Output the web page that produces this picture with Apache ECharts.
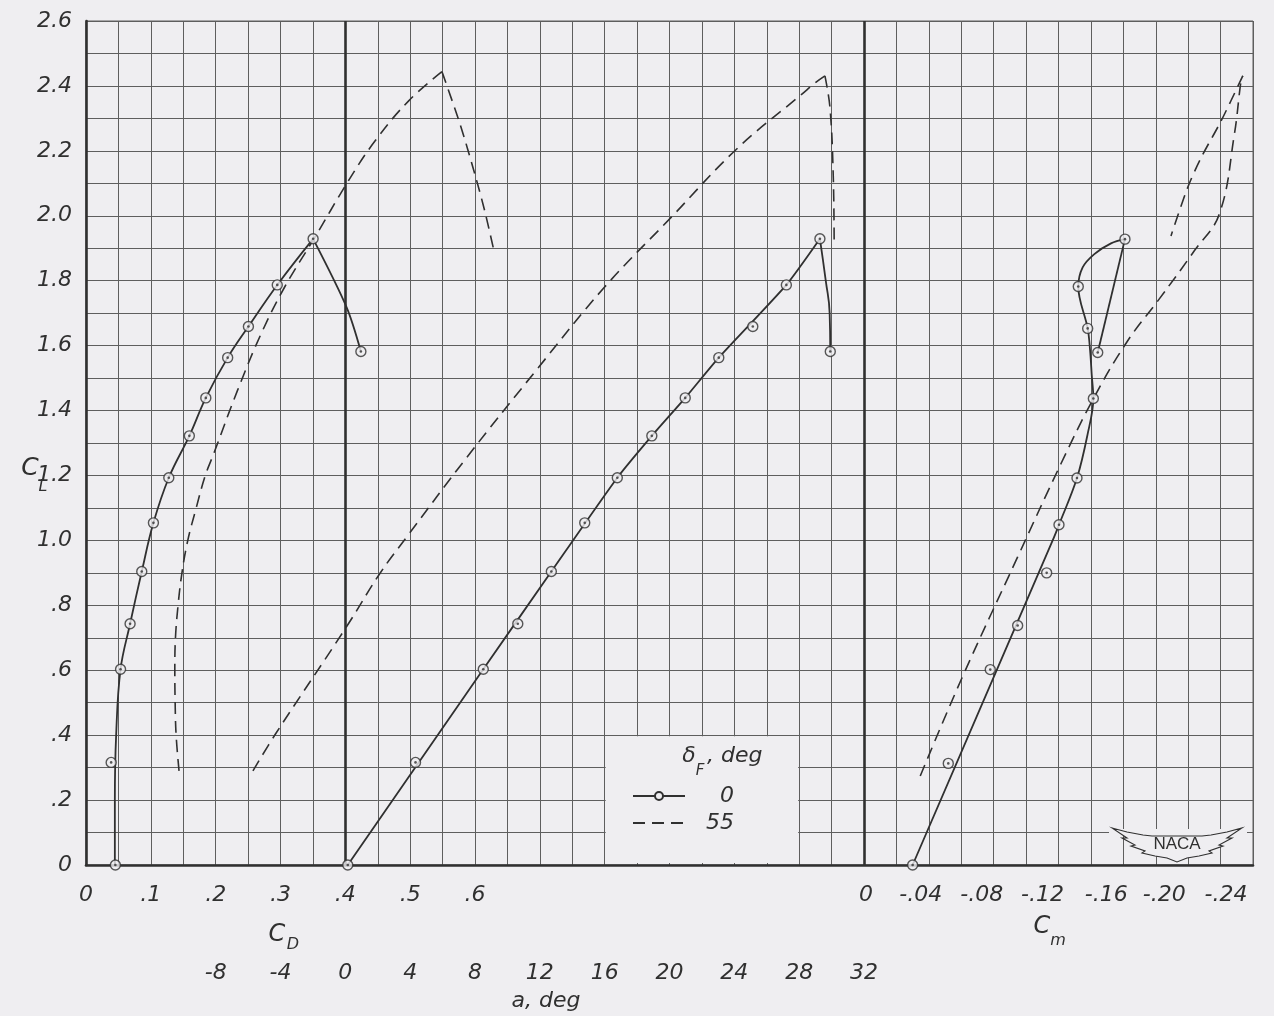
<!DOCTYPE html>
<html><head><meta charset="utf-8">
<script src="https://cdn.jsdelivr.net/npm/echarts@6/dist/echarts.min.js"></script>
<style>html,body{margin:0;padding:0;background:#efeef1;}#c{width:1274px;height:1016px;}</style>
</head><body><div id="c"></div>
<script>
// ---------- tick labels ----------
const clTickLabels = ['0','.2','.4','.6','.8','1.0','1.2','1.4','1.6','1.8','2.0','2.2','2.4','2.6'];
const cdTickLabels = ['0','.1','.2','.3','.4','.5','.6'];
const alphaTickValues = [-8,-4,0,4,8,12,16,20,24,28,32];
const alphaTickLabels = ['-8','-4','0','4','8','12','16','20','24','28','32'];
const cmTickLabels = ['0','-.04','-.08','-.12','-.16','-.20','-.24'];
const legendNames = ['0','55'];

// ---------- deltaF = 0 : test points ----------
const cl0    = [0, 0.316, 0.603, 0.743, 0.904, 1.054, 1.193, 1.322, 1.439, 1.563, 1.659, 1.787, 1.929, 1.582];
const cd0    = [0.0453, 0.0388, 0.0533, 0.068, 0.086, 0.104, 0.1277, 0.1594, 0.1848, 0.2185, 0.2505, 0.295, 0.3503, 0.424];
const alpha0 = [0.15, 4.33, 8.51, 10.64, 12.71, 14.77, 16.78, 18.91, 20.97, 23.04, 25.14, 27.21, 29.28, 29.92];
const cmCl0  = [0, 0.313, 0.602, 0.738, 0.90, 1.048, 1.192, 1.437, 1.579, 1.653, 1.782, 1.928];
const cm0    = [-0.030, -0.052, -0.0779, -0.0948, -0.1127, -0.1203, -0.1314, -0.1415, -0.1442, -0.138, -0.1322, -0.161];

// ---------- deltaF = 0 : faired curves ----------
const cd0FairCl = [0, 0.20, 0.40, 0.603, 0.743, 0.904, 1.054, 1.193, 1.322, 1.439, 1.563, 1.659, 1.787, 1.929];
const cd0FairCd = [0.0445, 0.0445, 0.0465, 0.0533, 0.068, 0.086, 0.104, 0.1277, 0.1594, 0.1848, 0.2185, 0.2505, 0.295, 0.3503];
const cd0StallCl = [1.929, 1.718, 1.582];
const cd0StallCd = [0.3503, 0.402, 0.424];
const alpha0FairCl = [0, 0.603, 0.904, 1.193, 1.322, 1.439, 1.563, 1.787, 1.929];
const alpha0FairA  = [0.15, 8.51, 12.71, 16.78, 18.91, 20.97, 23.04, 27.21, 29.28];
const alpha0StallCl = [1.929, 1.80, 1.70, 1.582];
const alpha0StallA  = [29.28, 29.64, 29.88, 29.92];
const cm0FairCl = [0, 1.0, 1.048, 1.192, 1.328, 1.437, 1.51, 1.585, 1.653, 1.782, 1.841, 1.882, 1.915, 1.928];
const cm0FairCm = [-0.030, -0.1164, -0.1203, -0.1314, -0.138, -0.1415, -0.1405, -0.1395, -0.138, -0.1322, -0.1349, -0.1421, -0.1524, -0.161];
const cm0StallCl = [1.928, 1.579];
const cm0StallCm = [-0.161, -0.1442];

// ---------- deltaF = 55 : faired curves ----------
const cd55RiseCl = [0.29, 0.40, 0.50, 0.60, 0.70, 0.80, 0.90, 1.00, 1.10, 1.20, 1.267, 1.462, 1.636, 1.779, 1.933, 2.102, 2.231, 2.354, 2.444];
const cd55RiseCd = [0.1435, 0.139, 0.1375, 0.137, 0.138, 0.142, 0.148, 0.157, 0.170, 0.184, 0.197, 0.2337, 0.270, 0.306, 0.3528, 0.403, 0.446, 0.4977, 0.549];
const cd55FallCl = [2.444, 2.282, 2.128, 2.015, 1.894];
const cd55FallCd = [0.549, 0.577, 0.5998, 0.615, 0.629];
const a55RiseCl = [0.29, 0.405, 0.733, 0.898, 1.01, 1.256, 1.528, 1.779, 1.995, 2.205, 2.374, 2.41, 2.431];
const a55RiseA  = [-5.70, -4.29, 0.06, 2.13, 3.78, 7.5, 11.84, 15.97, 20.1, 24.13, 28.15, 29.0, 29.59];
const a55FallCl = [2.431, 2.333, 2.128, 1.908];
const a55FallA  = [29.59, 29.9, 30.1, 30.16];
const cm55RiseCl = [0.274, 0.569, 0.949, 1.236, 1.441, 1.615, 1.744, 1.892, 2.005, 2.251, 2.415, 2.431];
const cm55RiseCm = [-0.0347, -0.0598, -0.0948, -0.1215, -0.142, -0.1627, -0.1822, -0.2038, -0.2192, -0.2285, -0.2326, -0.2337];
const cm55FallCl = [2.431, 2.292, 2.179, 2.087, 1.938];
const cm55FallCm = [-0.2337, -0.2203, -0.208, -0.1997, -0.1894];

// ---------- styling ----------
const INK = '#303030', GRIDC = '#5e5e5e', BG = '#efeef1';
const FONT = 'DejaVu Sans';
const LS = {fontFamily: FONT, fontStyle: 'italic', fontSize: 22, color: INK};
const DASH = [12, 7];

function near(a, b) { return Math.abs(a - b) < 1e-6; }
function zip(xs, ys) { return xs.map((x, i) => [x, ys[i]]); }

const cmShift = [-2, 8, 12, 16, 17, 24, 27];
const cmRich = {};
cmShift.forEach((d, i) => {
  cmRich['c' + i] = Object.assign({}, LS, {padding: d > 0 ? [0, 2 * d, 0, 0] : [0, 0, 0, -2 * d]});
});

function solid(name, xi, data, smooth, extra) {
  return Object.assign({
    name: name, type: 'line', xAxisIndex: xi, yAxisIndex: 0, data: data,
    smooth: smooth, symbol: 'none', z: 3, silent: true,
    lineStyle: {color: INK, width: 1.8}
  }, extra || {});
}
function dashed(name, xi, data, smooth) {
  return {
    name: name, type: 'line', xAxisIndex: xi, yAxisIndex: 0, data: data,
    smooth: smooth, symbol: 'none', z: 3, silent: true,
    lineStyle: {color: INK, width: 1.6, type: DASH}
  };
}
function ring(name, xi, data) {
  return {
    name: name, type: 'scatter', xAxisIndex: xi, yAxisIndex: 0, data: data,
    symbol: 'circle', symbolSize: 10, z: 5, silent: true,
    itemStyle: {color: BG, borderColor: INK, borderWidth: 1.4}
  };
}
function dot(name, xi, data) {
  return {
    name: name, type: 'scatter', xAxisIndex: xi, yAxisIndex: 0, data: data,
    symbol: 'circle', symbolSize: 2.6, z: 6, silent: true,
    itemStyle: {color: INK}
  };
}
const thick = (val, axisKey) => ({
  silent: true, symbol: 'none', label: {show: false},
  lineStyle: {color: INK, width: 2.6, type: 'solid'},
  data: [{[axisKey]: val}]
});

const option = {
  backgroundColor: BG,
  animation: false,
  grid: {left: 86, right: 21, top: 21, bottom: 151, show: true, borderColor: GRIDC, borderWidth: 1},
  legend: {
    data: [{name: legendNames[0]}, {name: legendNames[1], itemStyle: {color: 'rgba(0,0,0,0)', borderColor: 'rgba(0,0,0,0)', borderWidth: 0}}],
    orient: 'vertical', left: 627, top: 780,
    itemWidth: 52, itemHeight: 10, itemGap: 5, itemTextGap: 4,
    selectedMode: false, z: 10,
    formatter: n => '{r|' + n + '}',
    textStyle: {rich: {r: Object.assign({}, LS, {width: 44, align: 'right', lineHeight: 22})}}
  },
  xAxis: [
    {type: 'value', min: 0, max: 1.8, interval: 0.05, position: 'bottom',
     axisLine: {show: true, onZero: false, lineStyle: {color: INK, width: 2.6}},
     axisTick: {show: false},
     splitLine: {show: true, lineStyle: {color: GRIDC, width: 1}},
     axisLabel: Object.assign({}, LS, {margin: 19, showMinLabel: true, showMaxLabel: true,
       formatter: v => { const i = Math.round(v / 0.1); return (near(v, i * 0.1) && i >= 0 && i < cdTickLabels.length) ? cdTickLabels[i] : ''; }})},
    {type: 'value', min: -16, max: 56, interval: 2, position: 'bottom',
     axisLine: {show: false}, axisTick: {show: false}, splitLine: {show: false},
     axisLabel: Object.assign({}, LS, {margin: 97, showMinLabel: true, showMaxLabel: true,
       formatter: v => { const i = alphaTickValues.findIndex(t => near(t, v)); return i >= 0 ? alphaTickLabels[i] : ''; }})},
    {type: 'value', min: -0.24, max: 0.48, interval: 0.02, inverse: true, position: 'bottom',
     axisLine: {show: false}, axisTick: {show: false}, splitLine: {show: false},
     axisLabel: Object.assign({}, LS, {margin: 19, showMinLabel: true, showMaxLabel: true, rich: cmRich,
       formatter: v => { const i = Math.round(-v / 0.04); return (i >= 0 && i < cmTickLabels.length && near(v, -i * 0.04)) ? '{c' + i + '|' + cmTickLabels[i] + '}' : ''; }})}
  ],
  yAxis: [{
    type: 'value', min: 0, max: 2.6, interval: 0.1,
    axisLine: {show: true, onZero: false, lineStyle: {color: INK, width: 2.6}},
    axisTick: {show: false},
    splitLine: {show: true, lineStyle: {color: GRIDC, width: 1}},
    axisLabel: Object.assign({}, LS, {margin: 14, showMinLabel: true, showMaxLabel: true,
      formatter: v => { const i = Math.round(v / 0.2); return (near(v, i * 0.2) && i < clTickLabels.length) ? clTickLabels[i] : ''; }})
  }],
  series: [
    // legend carriers
    {name: '0', type: 'line', xAxisIndex: 0, data: [], symbol: 'circle', symbolSize: 9,
     itemStyle: {color: BG, borderColor: INK, borderWidth: 1.3}, lineStyle: {color: INK, width: 1.8}},
    {name: '55', type: 'line', xAxisIndex: 0, data: [], symbol: 'none', showSymbol: false,
     itemStyle: {color: 'rgba(0,0,0,0)'},
     lineStyle: {color: INK, width: 1.8, type: DASH}},
    // deltaF = 0
    solid('cd0', 0, zip(cd0FairCd, cd0FairCl), 0.4, {markLine: thick(0.4, 'xAxis')}),
    solid('cd0s', 0, zip(cd0StallCd, cd0StallCl), 0.3),
    solid('a0', 1, zip(alpha0FairA, alpha0FairCl), 0.2),
    solid('a0s', 1, zip(alpha0StallA, alpha0StallCl), 0.5),
    solid('cm0', 2, zip(cm0FairCm, cm0FairCl), 0.35, {markLine: thick(0, 'xAxis')}),
    solid('cm0s', 2, zip(cm0StallCm, cm0StallCl), false),
    // deltaF = 55
    dashed('cd55r', 0, zip(cd55RiseCd, cd55RiseCl), 0.4),
    dashed('cd55f', 0, zip(cd55FallCd, cd55FallCl), 0.3),
    dashed('a55r', 1, zip(a55RiseA, a55RiseCl), 0.4),
    dashed('a55f', 1, zip(a55FallA, a55FallCl), 0.4),
    dashed('cm55r', 2, zip(cm55RiseCm, cm55RiseCl), 0.4),
    dashed('cm55f', 2, zip(cm55FallCm, cm55FallCl), 0.3),
    // test points
    ring('cd0p', 0, zip(cd0, cl0)), dot('cd0d', 0, zip(cd0, cl0)),
    ring('a0p', 1, zip(alpha0, cl0)), dot('a0d', 1, zip(alpha0, cl0)),
    ring('cm0p', 2, zip(cm0, cmCl0)), dot('cm0d', 2, zip(cm0, cmCl0))
  ]
};

const chart = echarts.init(document.getElementById('c'));
chart.setOption(option);

// ---------- decorations (legend box, titles, logo) ----------
const bx1 = chart.convertToPixel({xAxisIndex: 1}, 16);
const bx2 = chart.convertToPixel({xAxisIndex: 1}, 28);
const by1 = chart.convertToPixel({yAxisIndex: 0}, 0.4);
const by2 = chart.convertToPixel({yAxisIndex: 0}, 0);
const T = (x, y, text, size, align) => ({
  type: 'text', x: x, y: y, z: 20,
  style: {text: text, fontFamily: FONT, fontStyle: 'italic', fontSize: size, fill: INK, align: align || 'center', verticalAlign: 'middle'}
});

const cx = 1177, cy = 845;
const wing = [[-65,-17],[-50,-13],[-34,-10],[-25,-9],[25,-9],[34,-10],[50,-13],[65,-17],
  [50,-7],[55,-7],[42,0],[46,1],[32,6],[35,8],[22,11],[10,13],[0,17],
  [-10,13],[-22,11],[-35,8],[-32,6],[-46,1],[-42,0],[-55,-7],[-50,-7]].map(p => [cx + p[0], cy + p[1]]);

chart.setOption({
  graphic: [
    {type: 'rect', z: 1, shape: {x: bx1 + 1, y: by1 + 1, width: bx2 - bx1 - 2, height: by2 - by1 - 3}, style: {fill: BG}},
    {type: 'rect', z: 1, shape: {x: 1109, y: 829, width: 138, height: 7}, style: {fill: BG}},
    {type: 'polygon', z: 2, shape: {points: wing}, style: {fill: BG, stroke: INK, lineWidth: 1.1}},
    {type: 'text', z: 21, x: cx, y: cy - 1, style: {text: 'NACA', fontFamily: 'Liberation Sans', fontSize: 17, fill: INK, align: 'center', verticalAlign: 'middle'}},
    T(30, 468, 'C', 25), T(43, 487, 'L', 16),
    T(277, 935, 'C', 24), T(293, 945, 'D', 16),
    T(1042, 927, 'C', 24), T(1058, 941, 'm', 16),
    T(546, 1001, 'a, deg', 22),
    T(689, 756, 'δ', 22), T(700, 771, 'F', 15), T(707, 756, ', deg', 22, 'left')
  ]
});
</script></body></html>
